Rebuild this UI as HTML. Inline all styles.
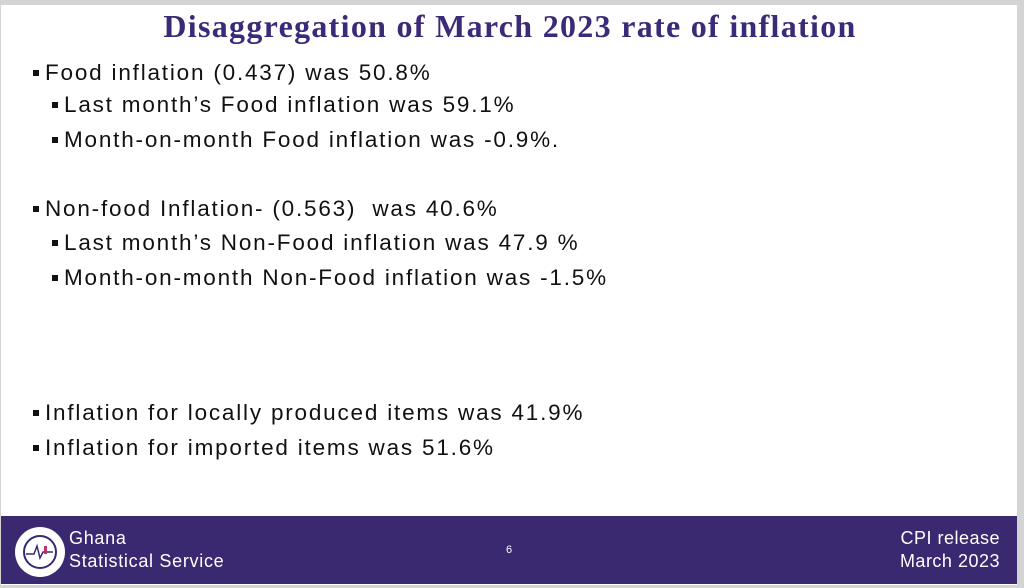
<!DOCTYPE html>
<html><head><meta charset="utf-8"><style>
body{margin:0;width:1024px;height:588px;overflow:hidden;background:#d4d4d4;position:relative;font-family:"Liberation Sans",sans-serif}
.slide{position:absolute;left:1px;top:5px;width:1016px;height:580px;background:#fff}
.t{position:absolute;left:0;width:1020px;top:8px;text-align:center;font-family:"Liberation Serif",serif;font-weight:bold;font-size:32px;letter-spacing:1.3px;color:#3b2a78}
.l{position:absolute;font-size:22.5px;letter-spacing:1.8px;color:#111;white-space:pre;line-height:26px}
.l::before{content:"";position:absolute;left:-12px;top:10px;width:6px;height:6px;background:#111}
.foot{position:absolute;left:1px;top:516px;width:1016px;height:68px;background:#3a2870;color:#fff}
</style></head><body>
<div class="slide"></div>
<div class="t">Disaggregation of March 2023 rate of inflation</div>
<div class="l" style="left:45px;top:60px">Food inflation (0.437) was 50.8%</div>
<div class="l" style="left:64px;top:92px">Last month’s Food inflation was 59.1%</div>
<div class="l" style="left:64px;top:127px">Month-on-month Food inflation was -0.9%.</div>
<div class="l" style="left:45px;top:196px">Non-food Inflation- (0.563)  was 40.6%</div>
<div class="l" style="left:64px;top:230px">Last month’s Non-Food inflation was 47.9 %</div>
<div class="l" style="left:64px;top:265px">Month-on-month Non-Food inflation was -1.5%</div>
<div class="l" style="left:45px;top:400px">Inflation for locally produced items was 41.9%</div>
<div class="l" style="left:45px;top:435px">Inflation for imported items was 51.6%</div>
<div class="foot">
<svg style="position:absolute;left:13px;top:10px" width="52" height="52"><circle cx="26" cy="26" r="25" fill="#fff"/><circle cx="26" cy="26" r="16" fill="none" stroke="#3a2870" stroke-width="2"/><path d="M12 28h8l3-8 3 12 3-6h10" stroke="#3a2870" fill="none" stroke-width="1.5"/><rect x="30" y="20" width="3" height="8" fill="#c03070"/></svg>
<div style="position:absolute;left:68px;top:11px;font-size:18px;letter-spacing:0.7px;line-height:23px">Ghana<br>Statistical Service</div>
<div style="position:absolute;left:505px;top:28px;font-size:11px">6</div>
<div style="position:absolute;right:17px;top:11px;font-size:18px;letter-spacing:0.5px;line-height:23px;text-align:right">CPI release<br>March  2023</div>
</div>
</body></html>
